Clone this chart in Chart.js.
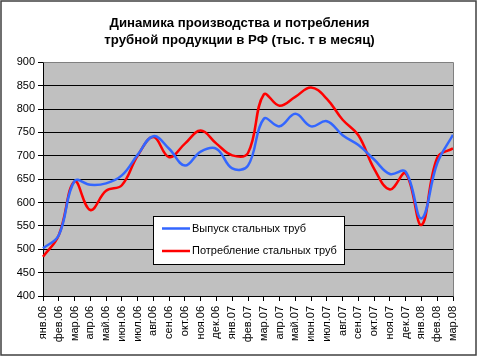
<!DOCTYPE html>
<html>
<head>
<meta charset="utf-8">
<style>
  html, body { margin: 0; padding: 0; background: #ffffff; }
  #wrap { position: relative; width: 479px; height: 357px; }
  canvas { display: block; }
</style>
<script src="https://cdn.jsdelivr.net/npm/chart.js@4.4.0/dist/chart.umd.min.js"></script>
</head>
<body>
<div id="wrap"><canvas id="c" width="479" height="357"></canvas></div>
<script>
// ---- data ----
const titleLines = ["Динамика производства и потребления", "трубной продукции в РФ (тыс. т в месяц)"];
const months = ["янв.06","фев.06","мар.06","апр.06","май.06","июн.06","июл.06","авг.06","сен.06","окт.06","ноя.06","дек.06",
                "янв.07","фев.07","мар.07","апр.07","май.07","июн.07","июл.07","авг.07","сен.07","окт.07","ноя.07","дек.07",
                "янв.08","фев.08","мар.08"];
const outputLabel = "Выпуск стальных труб";
const outputValues = [502, 530, 646, 638, 641, 658, 702, 742, 715, 679, 709, 715,
                      673, 679, 779, 763, 790, 763, 774, 744, 723, 692, 661, 666,
                      566, 684, 745];
const consumptionLabel = "Потребление стальных труб";
const consumptionValues = [484, 530, 645, 584, 625, 637, 700, 740, 697, 726, 754, 726,
                           701, 706, 831, 807, 826, 846, 822, 777, 744, 672, 628, 662,
                           552, 696, 716];
const yMin = 400, yMax = 900, yStep = 50;

const FONT = "'Liberation Sans', Arial, sans-serif";

const framePlugin = {
  id: 'frame',
  beforeDraw(chart) {
    const { ctx, chartArea: a } = chart;
    ctx.save();
    ctx.fillStyle = '#ffffff';
    ctx.fillRect(0, 0, chart.width, chart.height);
    ctx.fillStyle = '#c0c0c0';
    ctx.fillRect(a.left, a.top, a.right - a.left, a.bottom - a.top);
    ctx.restore();
  },
  afterDraw(chart) {
    const { ctx, chartArea: a } = chart;
    ctx.save();
    // plot area top/right edges
    ctx.strokeStyle = '#808080';
    ctx.lineWidth = 1;
    ctx.beginPath();
    ctx.moveTo(Math.round(a.left) + 0.5, Math.round(a.top) + 0.5);
    ctx.lineTo(Math.round(a.right) + 0.5, Math.round(a.top) + 0.5);
    ctx.lineTo(Math.round(a.right) + 0.5, Math.round(a.bottom) + 0.5);
    ctx.stroke();
    // outer chart border
    ctx.strokeStyle = '#404040';
    ctx.lineWidth = 1.5;
    ctx.strokeRect(1, 1, 475, 354);
    // legend box
    const lx = 153.5, ly = 216.5, lw = 191, lh = 48;
    ctx.fillStyle = '#ffffff';
    ctx.fillRect(lx, ly, lw, lh);
    ctx.strokeStyle = '#000000';
    ctx.lineWidth = 1;
    ctx.strokeRect(lx, ly, lw, lh);
    const rows = [228.5, 251];
    chart.data.datasets.forEach((ds, i) => {
      const y = rows[i];
      ctx.strokeStyle = ds.borderColor;
      ctx.lineWidth = 2.5;
      ctx.beginPath();
      ctx.moveTo(162, y);
      ctx.lineTo(190, y);
      ctx.stroke();
      ctx.fillStyle = '#000000';
      ctx.font = "11px " + FONT;
      ctx.textBaseline = 'middle';
      ctx.textAlign = 'left';
      ctx.fillText(ds.label, 192, y);
    });
    ctx.restore();
  }
};

new Chart(document.getElementById('c'), {
  type: 'line',
  data: {
    labels: months,
    datasets: [
      { label: outputLabel, data: outputValues, borderColor: '#3366ff', borderWidth: 2.5,
        pointRadius: 0, tension: 0.4, fill: false, yAxisID: 'y' },
      { label: consumptionLabel, data: consumptionValues, borderColor: '#ff0000', borderWidth: 2.5,
        pointRadius: 0, tension: 0.4, fill: false, yAxisID: 'y' }
    ]
  },
  options: {
    responsive: false,
    animation: false,
    events: [],
    layout: { padding: 0 },
    plugins: {
      legend: { display: false },
      tooltip: { enabled: false },
      title: {
        display: true,
        text: titleLines,
        color: '#000000',
        font: { family: FONT, size: 13.2, weight: 'bold', lineHeight: 1.3 },
        padding: { top: 15, bottom: 13 }
      }
    },
    scales: {
      x: {
        type: 'category',
        offset: false,
        afterFit(scale) { scale.height = 61; },
        grid: { display: true, drawOnChartArea: false, drawTicks: true, tickLength: 5, color: '#000000' },
        border: { display: true, color: '#000000', width: 1 },
        ticks: {
          color: '#000000', autoSkip: false, minRotation: 90, maxRotation: 90, padding: 5,
          font: { family: FONT, size: 11 }
        }
      },
      y: {
        position: 'left',
        min: yMin, max: yMax,
        afterFit(scale) { scale.width = 43; },
        grid: {
          color: (c) => (c.tick && c.tick.value === yMax ? '#808080' : '#000000'),
          tickColor: '#000000',
          tickLength: 5, drawTicks: true
        },
        border: { display: true, color: '#000000', width: 1 },
        ticks: {
          stepSize: yStep, color: '#000000', padding: 3,
          font: { family: FONT, size: 11 }
        }
      },
      yRightSpace: {
        position: 'right',
        min: yMin, max: yMax,
        afterFit(scale) { scale.width = 26; },
        grid: { display: false },
        border: { display: false },
        ticks: { display: false }
      }
    }
  },
  plugins: [framePlugin]
});
</script>
</body>
</html>
